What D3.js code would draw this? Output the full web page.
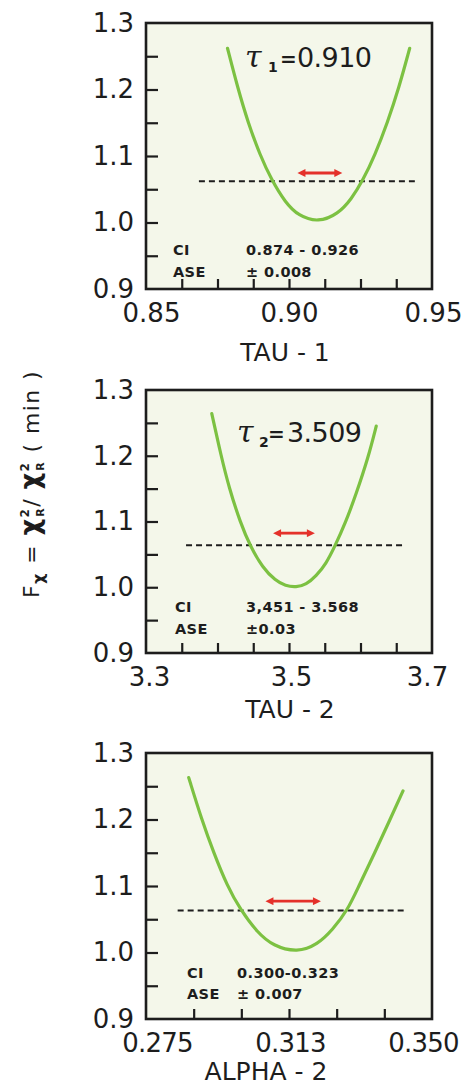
<!DOCTYPE html>
<html><head><meta charset="utf-8">
<script src="https://cdn.jsdelivr.net/npm/d3@7"></script>
<style>body{margin:0;background:#fff}svg{display:block}</style></head>
<body>
<svg id="chart" width="466" height="1089"></svg>
<script>
// ---------- data ----------
const tau1X  = [0.8785, 0.8821, 0.8857, 0.8899, 0.8939, 0.8987, 0.9033, 0.9102, 0.9172, 0.9218, 0.9259, 0.9300, 0.9344, 0.9384, 0.9422];
const tau1F  = [1.262, 1.202, 1.150, 1.101, 1.064, 1.030, 1.010, 1.000, 1.013, 1.035, 1.064, 1.101, 1.150, 1.202, 1.262];
const tau2X  = [3.392, 3.405, 3.416, 3.432, 3.446, 3.463, 3.481, 3.495, 3.510, 3.524, 3.538, 3.552, 3.564, 3.579, 3.594, 3.611, 3.622];
const tau2F  = [1.264, 1.200, 1.152, 1.098, 1.062, 1.030, 1.010, 1.002, 1.000, 1.004, 1.017, 1.036, 1.062, 1.098, 1.142, 1.198, 1.245];
const alpha2X = [0.2862, 0.2896, 0.2927, 0.2963, 0.2998, 0.3042, 0.3083, 0.3147, 0.3200, 0.3239, 0.3279, 0.3308, 0.3350, 0.3390, 0.3424];
const alpha2F = [1.263, 1.200, 1.151, 1.100, 1.064, 1.030, 1.010, 1.000, 1.012, 1.034, 1.064, 1.100, 1.150, 1.200, 1.243];

const xDomains = [[0.85, 0.95], [3.3, 3.7], [0.275, 0.350]];
const xTickValues = [[0.85, 0.90, 0.95], [3.3, 3.5, 3.7], [0.275, 0.3125, 0.350]];
const xTickLabels = [["0.85", "0.90", "0.95"], ["3.3", "3.5", "3.7"], ["0.275", "0.313", "0.350"]];
const xMinorTicks = [
  [0.8625, 0.875, 0.8875, 0.90, 0.9125, 0.925, 0.9375],
  [3.35, 3.40, 3.45, 3.50, 3.55, 3.60, 3.65],
  [0.2875, 0.300, 0.3125, 0.325, 0.3375]
];
const yDomain = [0.9, 1.3];
const yTickValues = [0.9, 1.0, 1.1, 1.2, 1.3];
const yTickLabels = ["0.9", "1.0", "1.1", "1.2", "1.3"];
const yMinorTicks = [0.95, 1.0, 1.05, 1.1, 1.15, 1.2, 1.25];

const axisTitles = ["TAU - 1", "TAU - 2", "ALPHA - 2"];
const thresholdLevel = [1.062, 1.064, 1.063];
const thresholdFrom = [0.8685, 3.356, 0.2833];
const thresholdTo = [0.944, 3.660, 0.3432];
const arrowLevel = [1.0744, 1.0823, 1.0772];
const arrowFrom = [0.9024, 3.4755, 0.3059];
const arrowTo = [0.9192, 3.5384, 0.3213];
const ciLabels = ["0.874 - 0.926", "3,451 - 3.568", "0.300-0.323"];
const aseLabels = ["± 0.008", "±0.03", "± 0.007"];
const bestFitSymbols = ["τ", "τ", null];
const bestFitSubs = ["1", "2", null];
const bestFitValues = ["0.910", "3.509", null];

// ---------- layout ----------
const svg = d3.select("#chart");
const left = 146, right = 432;
const frames = [{top: 23, bottom: 289}, {top: 390, bottom: 653}, {top: 753, bottom: 1019}];
const titlePos = [{x: 285, y: 361}, {x: 290, y: 718}, {x: 266, y: 1080}];
const labelShift = [[5, 0, 1], [3, 2, -5], [11, 1, -9]];
const ciPos = [{cx: 173, vx: 246, y1: 255, y2: 277}, {cx: 175, vx: 246, y1: 612, y2: 634}, {cx: 187, vx: 237, y1: 978, y2: 999}];
// x of: tau symbol, subscript, "=" sign, number ; baseline y
const fitPos = [{t: 245, s: 268, e: 280, n: 297, y: 67}, {t: 237, s: 259, e: 268, n: 287, y: 442}];
const curves = [[tau1X, tau1F], [tau2X, tau2F], [alpha2X, alpha2F]];

const BG = "#f4f7ea", GREEN = "#7cc142", RED = "#e4312a", INK = "#1d1d1d";
const FONT = "'DejaVu Sans', sans-serif";

const defs = svg.append("defs");
["s", "e"].forEach(k => {
  defs.append("marker").attr("id", "ah" + k)
    .attr("viewBox", "0 0 10 10").attr("refX", 2).attr("refY", 5)
    .attr("markerWidth", 9).attr("markerHeight", 8).attr("markerUnits", "userSpaceOnUse")
    .attr("orient", k === "s" ? "auto-start-reverse" : "auto")
    .append("path").attr("d", "M0,0 L10,5 L0,10 Z").attr("fill", RED);
});

frames.forEach((f, i) => {
  const x = d3.scaleLinear().domain(xDomains[i]).range([left, right]);
  const y = d3.scaleLinear().domain(yDomain).range([f.bottom, f.top]);
  const g = svg.append("g");

  g.append("rect").attr("x", left).attr("y", f.top).attr("width", right - left).attr("height", f.bottom - f.top)
    .attr("fill", BG);

  // minor ticks (inward)
  const bx = g.append("g").attr("transform", `translate(0,${f.bottom})`)
    .call(d3.axisBottom(x).tickValues(xMinorTicks[i]).tickSize(-10).tickFormat(""));
  bx.select(".domain").remove();
  bx.selectAll("line").attr("stroke", INK).attr("stroke-width", 2.2);
  const ly = g.append("g").attr("transform", `translate(${left},0)`)
    .call(d3.axisLeft(y).tickValues(yMinorTicks).tickSize(-12).tickFormat(""));
  ly.select(".domain").remove();
  ly.selectAll("line").attr("stroke", INK).attr("stroke-width", 2.2);

  // tick labels
  const lx = g.append("g").attr("transform", `translate(0,${f.bottom})`)
    .call(d3.axisBottom(x).tickValues(xTickValues[i]).tickSize(0).tickPadding(15)
      .tickFormat((d, j) => xTickLabels[i][j]));
  lx.select(".domain").remove();
  lx.selectAll("text").attr("font-family", FONT).attr("font-size", 26).attr("fill", INK)
    .attr("letter-spacing", i === 2 ? -0.8 : 0)
    .attr("dx", (d, j) => labelShift[i][j]);
  const lyl = g.append("g").attr("transform", `translate(${left},0)`)
    .call(d3.axisLeft(y).tickValues(yTickValues).tickSize(0).tickPadding(12)
      .tickFormat((d, j) => yTickLabels[j]));
  lyl.select(".domain").remove();
  lyl.selectAll("text").attr("font-family", FONT).attr("font-size", 26).attr("fill", INK);

  // threshold dashed line
  g.append("line").attr("x1", x(thresholdFrom[i])).attr("x2", x(thresholdTo[i]))
    .attr("y1", y(thresholdLevel[i])).attr("y2", y(thresholdLevel[i]))
    .attr("stroke", INK).attr("stroke-width", 2).attr("stroke-dasharray", "6,4");

  // curve
  const pts = curves[i][0].map((v, j) => [v, curves[i][1][j]]);
  g.append("path").datum(pts)
    .attr("d", d3.line().x(d => x(d[0])).y(d => y(d[1])).curve(d3.curveBasis))
    .attr("fill", "none").attr("stroke", GREEN).attr("stroke-width", 3.2).attr("stroke-linecap", "round");

  // red double arrow
  g.append("line").attr("x1", x(arrowFrom[i]) + 8).attr("x2", x(arrowTo[i]) - 8)
    .attr("y1", y(arrowLevel[i])).attr("y2", y(arrowLevel[i]))
    .attr("stroke", RED).attr("stroke-width", 2.8)
    .attr("marker-start", "url(#ahs)").attr("marker-end", "url(#ahe)");

  // frame
  g.append("rect").attr("x", left).attr("y", f.top).attr("width", right - left).attr("height", f.bottom - f.top)
    .attr("fill", "none").attr("stroke", INK).attr("stroke-width", 2.6);

  // CI / ASE text
  const c = ciPos[i];
  const tf = sel => sel.attr("font-family", FONT).attr("font-size", 14.5).attr("font-weight", "bold").attr("fill", INK).attr("letter-spacing", 0.4);
  g.append("text").attr("x", c.cx).attr("y", c.y1).text("CI").call(tf);
  g.append("text").attr("x", c.vx).attr("y", c.y1).text(ciLabels[i]).call(tf);
  g.append("text").attr("x", c.cx).attr("y", c.y2).text("ASE").call(tf);
  g.append("text").attr("x", c.vx).attr("y", c.y2).text(aseLabels[i]).call(tf);

  // axis title
  g.append("text").attr("x", titlePos[i].x).attr("y", titlePos[i].y).attr("text-anchor", "middle")
    .attr("font-family", FONT).attr("font-size", 25).attr("fill", INK).text(axisTitles[i]);

  // best fit annotation
  if (bestFitSymbols[i]) {
    const p = fitPos[i];
    g.append("text").attr("x", p.t).attr("y", p.y).attr("fill", INK)
      .attr("font-family", "'DejaVu Serif', serif").attr("font-style", "italic")
      .attr("font-size", 30).text(bestFitSymbols[i]);
    g.append("text").attr("x", p.s).attr("y", p.y + 5).attr("fill", INK)
      .attr("font-family", FONT).attr("font-weight", "bold").attr("font-size", 14).text(bestFitSubs[i]);
    g.append("text").attr("x", p.e).attr("y", p.y - 1).attr("fill", INK)
      .attr("font-family", FONT).attr("font-weight", "bold").attr("font-size", 20).text("=");
    g.append("text").attr("x", p.n).attr("y", p.y).attr("fill", INK)
      .attr("font-family", FONT).attr("font-size", 27).attr("letter-spacing", -0.6).text(bestFitValues[i]);
  }
});

// y-axis title (rotated)
const yt = svg.append("text").attr("transform", "translate(39,484) rotate(-90)")
  .attr("text-anchor", "middle").attr("font-family", FONT).attr("fill", INK).attr("font-size", 22)
  .attr("letter-spacing", 1.4);
yt.append("tspan").text("F");
yt.append("tspan").attr("font-weight", "bold").attr("font-size", 16).attr("dy", 5).text("χ");
yt.append("tspan").attr("dy", -5).text(" = ");
yt.append("tspan").attr("font-weight", "bold").attr("font-size", 26).text("χ");
yt.append("tspan").attr("font-weight", "bold").attr("font-size", 12).attr("dy", -10).text("2");
yt.append("tspan").attr("font-weight", "bold").attr("font-size", 11).attr("dx", -9).attr("dy", 15).text("R");
yt.append("tspan").attr("dy", -5).text("/ ");
yt.append("tspan").attr("font-weight", "bold").attr("font-size", 26).text("χ");
yt.append("tspan").attr("font-weight", "bold").attr("font-size", 12).attr("dy", -10).text("2");
yt.append("tspan").attr("font-weight", "bold").attr("font-size", 11).attr("dx", -9).attr("dy", 15).text("R");
yt.append("tspan").attr("dy", -5).text(" ( min )");
</script>
</body></html>
